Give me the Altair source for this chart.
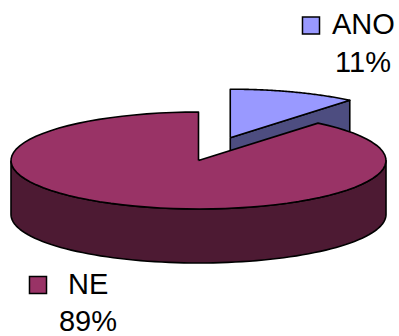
import math
import altair as alt
import pandas as pd

# ---- data ----
categories = ["ANO", "NE"]
values = [11, 89]
top_colors = ["#9999FF", "#993366"]
side_colors = ["#4D4D80", "#4D1A33"]
explode = [0.5, 0.0]

# ---- layout (pixels) ----
W, H = 399, 336
CX, CY = 198.5, 160.5
RX, RY = 187.5, 48.5
DEPTH = 54
START = 90.0  # 12 o'clock, slices go clockwise

# label layout
label_key_x = [311, 38]
label_key_y = [25.5, 285]
label_name_x = [332, 68]
label_name_y = [34, 294]
label_pct_x = [363, 88]
label_pct_y = [72, 331]

total = float(sum(values))
rows = []


def add_poly(name, pts, fill, z):
    pts = list(pts) + [pts[0]]
    for i, (x, y) in enumerate(pts):
        rows.append(dict(poly=name, i=i, x=x, y=y, fill=fill, z=z))


def pt(t, dx, dy, down=0.0):
    r = math.radians(t)
    return (CX + dx + RX * math.cos(r), CY + dy - RY * math.sin(r) + down)


def arc(t0, t1, dx, dy, down=0.0, n=80):
    return [pt(t0 + (t1 - t0) * k / n, dx, dy, down) for k in range(n + 1)]


slices = []
a0 = START
for idx, v in enumerate(values):
    span = 360.0 * v / total
    a1 = a0 - span
    mid = math.radians((a0 + a1) / 2)
    dx = explode[idx] * RX * math.cos(mid)
    dy = -explode[idx] * RY * math.sin(mid)
    slices.append(dict(idx=idx, a0=a0, a1=a1, dx=dx, dy=dy,
                       depth_key=math.sin(mid) * (1 + explode[idx])))
    a0 = a1

# back-to-front
order = sorted(slices, key=lambda s: -s["depth_key"])
z = 0
for s in order:
    idx, a0, a1, dx, dy = s["idx"], s["a0"], s["a1"], s["dx"], s["dy"]
    c = (CX + dx, CY + dy)
    cb = (CX + dx, CY + dy + DEPTH)
    # radial faces
    for edge, normal in ((a0, a0 + 90), (a1, a1 - 90)):
        if math.sin(math.radians(normal)) < -1e-6:
            p = pt(edge, dx, dy)
            pb = pt(edge, dx, dy, DEPTH)
            add_poly(f"r{idx}_{edge:.1f}", [c, p, pb, cb], side_colors[idx], z)
            z += 1
    # outer side (front half only)
    lo, hi = a1, a0
    for k in range(-3, 3):
        f0, f1 = 180 + 360 * k, 360 + 360 * k
        s0, s1 = max(lo, f0), min(hi, f1)
        if s1 - s0 > 1e-6:
            top = arc(s0, s1, dx, dy)
            bot = arc(s1, s0, dx, dy, DEPTH)
            add_poly(f"s{idx}_{k}", top + bot, side_colors[idx], z)
            z += 1
    # top face
    add_poly(f"t{idx}", [c] + arc(a0, a1, dx, dy), top_colors[idx], z)
    z += 1

df = pd.DataFrame(rows)

xs = alt.Scale(domain=[0, W], nice=False, zero=False)
ys = alt.Scale(domain=[0, H], nice=False, zero=False, reverse=True)

layers = []
for zz in range(z):
    sub = df[df.z == zz]
    layers.append(
        alt.Chart(sub).mark_line(stroke="black", strokeWidth=1.6, strokeJoin="round").encode(
            x=alt.X("x:Q", scale=xs, axis=None),
            y=alt.Y("y:Q", scale=ys, axis=None),
            fill=alt.Fill("fill:N", scale=None),
            order=alt.Order("i:Q"),
            detail="poly:N",
        )
    )

pcts = [f"{round(100 * v / total)}%" for v in values]
lab = pd.DataFrame(dict(
    cat=categories, pct=pcts, color=top_colors,
    kx=label_key_x, ky=label_key_y,
    nx=label_name_x, ny=label_name_y,
    px=label_pct_x, py=label_pct_y,
))

keys = alt.Chart(lab).mark_square(size=290, stroke="black", strokeWidth=1.5, opacity=1).encode(
    x=alt.X("kx:Q", scale=xs, axis=None),
    y=alt.Y("ky:Q", scale=ys, axis=None),
    fill=alt.Fill("color:N", scale=None),
)
names = alt.Chart(lab).mark_text(font="Liberation Sans", fontSize=29, align="left",
                                 baseline="alphabetic", color="black").encode(
    x=alt.X("nx:Q", scale=xs, axis=None),
    y=alt.Y("ny:Q", scale=ys, axis=None),
    text="cat:N",
)
pctt = alt.Chart(lab).mark_text(font="Liberation Sans", fontSize=29, align="center",
                                baseline="alphabetic", color="black").encode(
    x=alt.X("px:Q", scale=xs, axis=None),
    y=alt.Y("py:Q", scale=ys, axis=None),
    text="pct:N",
)

chart = alt.layer(*layers, keys, names, pctt).properties(
    width=W, height=H, padding=0, autosize="none", background="white"
).configure_view(stroke=None)

chart.save("out.html", embed_options={"renderer": "svg", "actions": False})
